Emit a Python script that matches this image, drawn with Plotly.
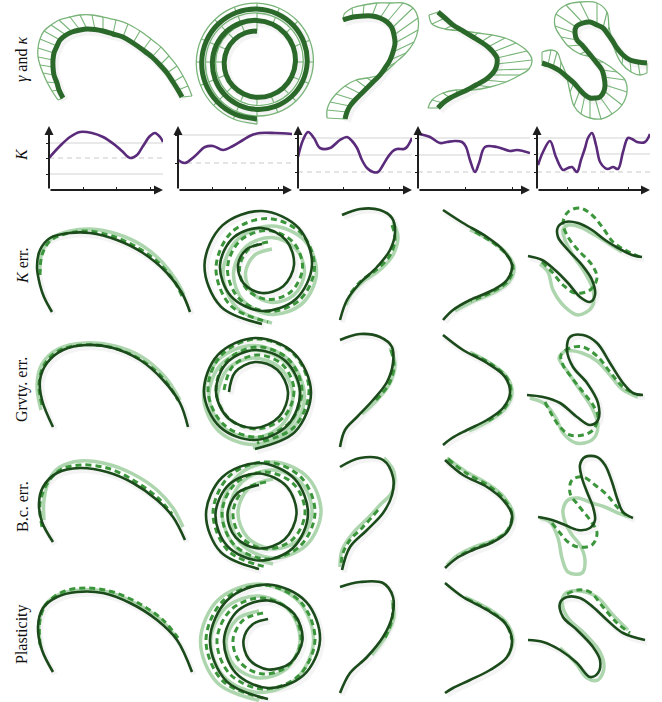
import numpy as np
import plotly.graph_objects as go

W, H = 662, 702

DARK = "#1b4a1b"
THICK = "#2b692b"
COMB = "#78b478"
MID = "#3b953b"
LIGHT = "#aed6ae"
PURPLE = "#5a2a7b"
AXIS = "#1e1e1e"
GRID = "#d4d4d4"
SHADOW = "rgba(0,0,0,0.045)"

ROW_LABELS = ["<i>γ</i> and <i>κ</i>", "<i>K</i>", "<i>K</i> err.", "Grvty. err.", "B.c. err.", "Plasticity"]
ROW_LABEL_Y = [60, 155, 266, 390, 507, 634]

# ---------------- Row 1: curves gamma with curvature comb (curve point, comb tip) -------------
R1C1_CURVE = [(63,98),(59,90),(57,83),(54,75),(53,67),(53,60),(54,53),(57,46),(60,40),(66,35),(72,32),(80,30),
              (87,29),(95,29.5),(103,31),(113,34),(123,37),(133,43),(143,50),(152,57),(160,65),(167,73),(173,82),(178,90),(182,97)]
R1C1_COMB = [(58,100),(52,91),(47,82),(43,73),(40,65),(38,57),(38,48),(40,39),(44,31),(51,25),(59,20),(70,17),
             (80,15),(92,15),(103,17),(116,20),(128,24),(140,31),(151,39),(161,47),(169,56),(177,66),(183,76),(188,86),(192,96)]

R1C3_CURVE = [(343,20),(353,17),(363,16),(372,16),(380,18),(387,22),(392,28),(394,35),(395,43),(393,52),(390,60),
              (385,68),(380,75),(373,82),(367,88),(361,94),(355,100),(350,106),(347,112),(345,119)]
R1C3_COMB = [(344,14),(352,8),(364,5),(377,3),(390,3),(403,3),(413,8),(418,18),(418,30),(414,42),(406,53),
             (395,63),(382,74),(367,78),(356,80),(345,86),(336,94),(330,102),(327,110),(327,118)]

R1C4_CURVE = [(438,12),(445,18),(453,25),(463,31),(473,37),(481,42),(488,47),(493,52),(497,58),(497,64),(495,70),
              (491,75),(485,80),(476,85),(467,90),(458,94),(450,98),(443,103),(438,108)]
R1C4_COMB = [(429,15),(432,24),(445,29),(463,31),(478,33),(492,35),(505,38),(516,43),(527,51),(532,60),(529,69),
             (520,75),(506,82),(490,87),(472,90),(456,90),(443,93),(432,100),(428,108)]

R1C5_CURVE = [(542,63),(548,65),(553,67),(560,71),(567,77),(574,83),(580,90),(585,95),(590,98),(595,98),(600,97),
              (604,91),(605,85),(604,77),(602,70),(596,62),(592,57),(587,51),(582,45),(577,40),(575,33),(576,27),
              (583,23),(590,22),(597,25),(603,28),(607,33),(612,40),(617,48),(623,55),(630,60),(638,62),(647,63)]
R1C5_COMB = [(542,52),(551,50),(557,52),(561,62),(566,74),(570,92),(574,106),(581,114),(590,118),(601,119),(612,114),
             (622,105),(627,92),(625,80),(617,72),(603,62),(592,57),(580,54),(568,46),(561,37),(555,26),(556,14),
             (566,5),(580,2),(597,3),(607,12),(609,27),(612,40),(616,53),(622,64),(631,72),(640,75),(647,73)]

# spiral (column 2), angle measured from "up", counter-clockwise on screen
SP1_CENTER = (257, 62)
SP1_ANGLE = [0, 22.5, 45, 67.5, 90, 112.5, 135, 157.5, 180, 202.5, 225, 247.5, 270, 292.5, 315, 337.5, 360,
             382.5, 405, 427.5, 450, 472.5, 495, 517.5, 540, 562.5, 585, 607.5, 630, 652.5, 675, 697.5, 720,
             742.5, 765, 787.5, 810, 832.5, 855, 877.5, 900]
SP1_R = [31.0, 31.4, 31.8, 32.3, 32.8, 33.4, 34.0, 34.6, 35.3, 36.0, 36.8, 37.6, 38.4, 39.2, 40.0, 40.8, 41.6,
         42.4, 43.2, 44.0, 44.6, 45.3, 46.0, 46.7, 47.4, 48.1, 48.8, 49.5, 50.2, 50.9, 51.6, 52.3, 53.0,
         53.6, 54.2, 54.8, 55.3, 55.8, 56.2, 56.6, 57.0]
SP1_COMB = [9.0, 8.9, 8.8, 8.7, 8.6, 8.5, 8.4, 8.3, 8.2, 8.1, 8.0, 7.9, 7.8, 7.7, 7.6, 7.5, 7.4, 7.3, 7.2, 7.1,
            7.0, 6.9, 6.8, 6.7, 6.6, 6.5, 6.4, 6.3, 6.2, 6.1, 6.0, 5.9, 5.8, 5.7, 5.6, 5.5, 5.4, 5.3, 5.2, 5.1, 5.0]

# ---------------- Row 2: K along the arc length -------------
K1_S = [0, 0.096, 0.184, 0.272, 0.377, 0.474, 0.579, 0.64, 0.711, 0.772, 0.825, 0.886, 0.93, 0.974, 1.0]
K1_V = [32, 44, 53, 58, 57, 53, 45, 39, 32, 35, 44, 54, 57, 53, 48]
K2_S = [0, 0.061, 0.149, 0.237, 0.307, 0.395, 0.482, 0.570, 0.649, 0.719, 0.851, 1.0]
K2_V = [30, 27, 34, 43, 44, 40, 44, 50, 55, 57, 57, 56]
K3_S = [0, 0.044, 0.088, 0.140, 0.193, 0.281, 0.368, 0.430, 0.474, 0.518, 0.561, 0.605, 0.658, 0.702, 0.746,
        0.789, 0.833, 0.868, 0.930, 0.956, 1.0]
K3_V = [33, 50, 58, 52, 42, 42, 50, 53, 49, 42, 30, 22, 18, 18, 25, 33, 39, 41, 41, 43, 52]
K4_S = [0.009, 0.107, 0.196, 0.259, 0.330, 0.393, 0.429, 0.464, 0.509, 0.545, 0.598, 0.705, 0.821, 0.884, 1.0]
K4_V = [56, 53, 47, 48, 49, 48, 43, 30, 18, 27, 43, 43, 39, 40, 37]
K5_S = [0.009, 0.053, 0.115, 0.168, 0.230, 0.274, 0.310, 0.354, 0.389, 0.425, 0.451, 0.487, 0.522, 0.558, 0.602,
        0.628, 0.673, 0.717, 0.761, 0.805, 0.841, 0.885, 0.956, 1.0]
K5_V = [25, 38, 49, 33, 20, 22, 23, 18, 30, 42, 52, 57, 45, 28, 22, 21, 23, 21, 38, 52, 51, 48, 48, 56]
K_S = [K1_S, K2_S, K3_S, K4_S, K5_S]
K_V = [K1_V, K2_V, K3_V, K4_V, K5_V]
K_GRID_SOLID = [[47, 16], [55], [52, 35], [52, 35], [52, 36]]
K_GRID_DASH = [[32], [27], [18], [18], [18]]
K_TICKS = [[0.3, 0.59, 0.89], [0.3, 0.59, 0.88], [0.4, 0.8], [0.42, 0.84], [0.27, 0.54, 0.81]]
K_BOX_X = [(49, 163), (178, 292), (298, 412), (418, 530), (537, 650)]
K_BOX_Y = (190, 126)
K_YMAX = 64

# ---------------- Rows 3-6: reference (dark), dashed and light solutions -------------
# K err.
E1_DARK = [(52,312),(44,297),(40,285),(37,267),(40,250),(50,238),(70,233),(90,233),(117,240),(143,253),(167,273),(182,293),(190,312)]
E1_LIGHT = [(40,272),(42,252),(52,238),(70,231),(90,229),(117,234),(143,246),(162,262),(176,280),(184,295)]
E1_DASH = [(40,275),(42,255),(50,241),(65,234),(87,231),(115,237),(140,249),(160,264),(174,281),(182,296)]
E3_DARK = [(342,215),(360,209),(380,210),(392,218),(395,233),(390,250),(377,267),(360,283),(347,300),(340,320)]
E3_LIGHT = [(393,222),(398,237),(393,255),(381,269),(364,281),(352,293),(346,305)]
E3_DASH = [(392,225),(395,240),(389,257),(376,270),(360,282),(350,294)]
E4_DARK = [(443,210),(463,223),(487,237),(503,250),(512,265),(507,280),(493,290),(470,300),(453,310),(443,320)]
E4_LIGHT = [(470,230),(490,240),(506,253),(514,267),(509,282),(495,292),(472,302),(455,311)]
E4_DASH = [(475,232),(492,242),(506,254),(513,267),(508,281),(494,291),(471,301)]
E5_DARK = [(528,256),(542,260),(555,270),(568,283),(580,297),(590,302),(595,295),(592,280),(582,265),(568,250),
           (558,237),(558,227),(565,222),(578,223),(592,230),(605,240),(618,248),(632,255),(642,257)]
E5_DASH = [(542,262),(552,272),(563,285),(575,293),(590,290),(597,278),(592,265),(578,250),(568,237),(563,223),
           (568,212),(580,208),(592,215),(603,228),(613,242),(625,250),(640,257)]
E5_LIGHT = [(540,264),(548,272),(553,290),(565,307),(578,315),(592,307),(593,290),(585,273),(573,255),(565,240),
            (563,230),(568,225),(580,227),(595,235),(608,243),(622,252)]

# Grvty. err.
G1_DARK = [(53,427),(42,400),(40,380),(47,363),(63,350),(87,345),(113,348),(140,360),(163,380),(180,403),(188,427)]
G1_LIGHT = [(41,410),(37,385),(42,364),(58,349),(85,343),(115,346),(142,357),(165,377),(180,400)]
G1_DASH = [(42,405),(39,385),(44,365),(58,351),(82,345),(110,347),(138,358),(162,377),(178,400)]
G3_DARK = [(340,340),(360,334),(380,337),(392,347),(393,363),(387,382),(373,400),(357,417),(345,430),(340,447)]
G3_LIGHT = [(390,348),(395,364),(390,383),(377,400),(362,414)]
G3_DASH = [(391,350),(394,366),(389,384),(376,400)]
G4_DARK = [(443,335),(463,350),(487,363),(505,377),(510,393),(503,408),(487,420),(467,430),(452,438),(443,445)]
G4_LIGHT = [(470,352),(490,363),(507,377),(512,393),(505,409),(489,421),(469,431)]
G4_DASH = [(472,354),(491,364),(507,378),(511,393),(504,409),(488,421)]
G5_DARK = [(527,395),(543,397),(560,403),(577,417),(590,425),(598,420),(598,403),(587,383),(573,367),(567,350),
           (570,337),(583,335),(597,343),(610,363),(623,383),(633,393),(643,395)]
G5_DASH = [(545,402),(552,415),(560,427),(570,435),(583,435),(593,430),(598,417),(593,405),(583,392),(572,378),
           (563,365),(561,355),(570,348),(583,347),(597,356),(610,372),(622,386),(635,394)]
G5_LIGHT = [(530,398),(545,404),(556,418),(563,433),(576,443),(592,440),(598,426),(592,408),(580,390),(568,372),
            (559,358),(566,351),(582,353),(597,361),(610,375),(622,389),(638,397)]

# B.c. err.
B1_DARK = [(53,542),(42,522),(39,503),(43,487),(57,473),(80,468),(107,472),(133,483),(157,500),(173,517),(185,540)]
B1_LIGHT = [(44,520),(44,500),(50,478),(60,467),(80,461),(107,464),(133,474),(157,490),(173,508),(183,527)]
B1_DASH = [(42,527),(40,503),(47,484),(60,470),(80,465),(107,468),(133,480),(157,497),(172,514)]
B3_DARK = [(340,467),(360,458),(383,460),(393,477),(392,495),(383,513),(367,530),(350,547),(342,570)]
B3_LIGHT = [(384,458),(394,472),(392,492),(380,505),(368,518),(353,533),(342,550),(340,567)]
B3_DASH = [(378,510),(363,527),(350,540),(343,553),(341,565)]
B4_DARK = [(445,460),(463,475),(487,487),(503,500),(512,515),(507,532),(493,542),(473,550),(457,558),(445,568)]
B4_LIGHT = [(447,458),(465,471),(488,484),(504,497),(513,514),(508,530),(494,540),(474,547),(458,555),(447,565)]
B4_DASH = [(448,459),(466,473),(489,486),(504,499),(512,515),(507,531),(493,541),(473,549),(457,557)]
B5_DARK = [(538,517),(552,520),(565,525),(578,530),(590,528),(595,520),(593,507),(587,492),(582,478),(580,465),
           (585,457),(597,457),(605,465),(612,482),(617,498),(623,512),(633,518)]
B5_DASH = [(552,523),(560,533),(568,542),(578,547),(592,545),(597,533),(590,520),(578,505),(570,493),(572,480),
           (583,477),(595,485),(607,495),(618,508),(626,515)]
B5_LIGHT = [(540,518),(550,522),(558,538),(562,558),(568,572),(582,573),(585,560),(580,545),(572,535),(565,522),
            (563,510),(568,500),(578,498),(592,503),(605,507),(618,513),(630,517)]

# Plasticity
P1_DARK = [(53,672),(42,650),(38,627),(43,608),(57,597),(77,592),(103,593),(130,603),(157,620),(177,640),(192,672)]
P1_LIGHT = [(41,648),(39,624),(45,605),(60,594),(82,590),(108,592),(135,603),(160,619),(177,638)]
P1_DASH = [(40,645),(40,620),(47,603),(65,591),(87,588),(113,592),(140,604),(163,620),(178,638)]
P3_DARK = [(340,587),(360,582),(383,583),(393,597),(392,617),(383,637),(367,657),(350,673),(340,693)]
P3_LIGHT = [(392,600),(394,617),(386,636),(372,655)]
P3_DASH = [(393,603),(392,620),(385,638)]
P4_DARK = [(445,583),(463,597),(487,610),(505,623),(512,640),(507,657),(490,670),(470,680),(453,688),(445,693)]
P4_LIGHT = [(465,597),(489,609),(506,622),(513,640),(508,656)]
P4_DASH = [(467,599),(490,611),(506,624),(512,640)]
P5_DARK = [(528,640),(543,642),(560,650),(577,663),(590,677),(598,673),(600,660),(593,647),(577,630),(563,617),
           (560,603),(567,597),(580,598),(593,607),(607,620),(623,633),(645,640)]
P5_LIGHT = [(560,648),(575,662),(587,678),(598,680),(604,668),(600,652),(585,634),(568,618),(562,602),(566,593),
            (580,591),(597,597),(613,615),(628,630)]
P5_DASH = [(567,594),(578,590),(590,592),(603,607),(617,623),(630,633)]

# spirals of rows 3-6: (center, angles, radii)
A45 = [0, 45, 90, 135, 180, 225, 270, 315, 360, 405, 450, 495, 540, 585, 630, 675, 720, 765, 810, 855, 900]
AG = [90, 45, 0, -45, -90, -135, -180, -225, -270, -315, -360, -405, -450, -495, -540, -585, -630, -675,
      -720, -765, -810, -855, -900]
SPK_DARK = ((262, 265), A45, [21, 22, 24, 26, 28, 30, 32, 34.5, 37, 39.5, 42, 44, 46, 48, 50, 52, 54, 56, 57.5, 58.5, 59])
SPK_DASH = ((268, 268), A45, [26, 27, 28.5, 30, 31.5, 33, 34.5, 36, 37.5, 39, 40.5, 42, 43.5, 45, 46.5, 48, 49.5, 51, 52, 53, 54])
SPK_LIGHT = ((272, 273), A45, [24, 25, 26.5, 28, 29.5, 31, 32.5, 34, 35.5, 37, 38.5, 40, 41.5, 43, 44.5, 46, 47, 48, 49, 49.5, 50])
SPG_DARK = ((255, 392), AG, [26, 28, 30, 31.5, 33, 34.5, 36, 37.5, 39, 40.5, 42, 43.5, 45, 46.5, 48, 49.5, 51, 52.5, 54, 55, 56, 56.5, 57])
SPG_DASH = ((257, 390), AG, [33, 34, 35, 36, 37, 38, 39, 40, 41, 42, 43, 44, 45, 46, 47, 48, 49, 50, 51, 51.5, 52, 52.5, 53])
SPG_LIGHT = ((253, 396), AG, [36, 37, 38, 39, 40, 41, 42, 43, 44, 45, 46, 47, 47.5, 48, 48.5, 49, 49.5, 50, 50.5, 51, 51.5, 52, 52])
SPB_DARK = ((259, 514), A45, [29, 30, 31.5, 33, 34.5, 36, 37.5, 39, 40.5, 42, 43.5, 45, 46.5, 48, 49, 50, 51, 52, 53, 54, 55])
SPB_DASH = ((266, 513), A45, [31, 32, 33, 34.5, 36, 37.5, 39, 40, 41, 42.5, 44, 45, 46, 47.5, 49, 50, 51, 52, 53, 53.5, 54])
SPB_LIGHT = ((273, 512), A45, [33, 34, 35, 36, 37, 38, 39, 40.5, 42, 43, 44, 45, 46, 47, 48, 49, 50, 50.5, 51, 51.5, 52])
SPP_DARK = ((268, 640), A45, [21, 22, 24.5, 27, 29.5, 32, 34.5, 37, 39.5, 42, 44, 46, 48, 50, 52, 54, 55.5, 57, 58, 58.5, 59])
SPP_DASH = ((263, 640), A45, [27, 28, 30, 32, 34, 36, 38, 40, 42, 44, 46, 47.5, 49, 50.5, 52, 53.5, 55, 56, 57, 57.5, 58])
SPP_LIGHT = ((259, 641), A45, [30, 31, 33, 35, 37, 39, 41, 43, 45, 47, 48.5, 50, 51.5, 53, 54.5, 56, 57, 58, 58.5, 59, 59.5])

ROWS = [
    [(E1_DARK, E1_DASH, E1_LIGHT), (SPK_DARK, SPK_DASH, SPK_LIGHT), (E3_DARK, E3_DASH, E3_LIGHT),
     (E4_DARK, E4_DASH, E4_LIGHT), (E5_DARK, E5_DASH, E5_LIGHT)],
    [(G1_DARK, G1_DASH, G1_LIGHT), (SPG_DARK, SPG_DASH, SPG_LIGHT), (G3_DARK, G3_DASH, G3_LIGHT),
     (G4_DARK, G4_DASH, G4_LIGHT), (G5_DARK, G5_DASH, G5_LIGHT)],
    [(B1_DARK, B1_DASH, B1_LIGHT), (SPB_DARK, SPB_DASH, SPB_LIGHT), (B3_DARK, B3_DASH, B3_LIGHT),
     (B4_DARK, B4_DASH, B4_LIGHT), (B5_DARK, B5_DASH, B5_LIGHT)],
    [(P1_DARK, P1_DASH, P1_LIGHT), (SPP_DARK, SPP_DASH, SPP_LIGHT), (P3_DARK, P3_DASH, P3_LIGHT),
     (P4_DARK, P4_DASH, P4_LIGHT), (P5_DARK, P5_DASH, P5_LIGHT)],
]

# ======================================================================
fig = go.Figure()


def to_xy(obj):
    """points list -> xs, ys ; spiral tuple -> xs, ys"""
    if isinstance(obj, tuple):
        (cx, cy), ang, rad = obj
        a = np.radians(np.array(ang, dtype=float))
        r = np.array(rad, dtype=float)
        return list(cx - r * np.sin(a)), list(cy - r * np.cos(a))
    return [p[0] for p in obj], [p[1] for p in obj]


def line(xs, ys, color, width, dash=None, shape="spline", xa="x", ya="y"):
    fig.add_trace(go.Scatter(x=xs, y=ys, mode="lines", xaxis=xa, yaxis=ya, hoverinfo="skip",
                             line=dict(color=color, width=width, dash=dash, shape=shape, smoothing=1.0)))


def shadow(xs, ys, width):
    line([v + 2 for v in xs], [v + 2.5 for v in ys], SHADOW, width + 3)


def comb(cx, cy, ex, ey):
    tx, ty = [], []
    for a, b, c, d in zip(cx, cy, ex, ey):
        tx += [a, c, None]
        ty += [b, d, None]
    line(tx, ty, COMB, 1.1, shape="linear")
    line(ex, ey, COMB, 1.3)


# Row 1
for cpts, epts in [(R1C1_CURVE, R1C1_COMB), (R1C3_CURVE, R1C3_COMB),
                   (R1C4_CURVE, R1C4_COMB), (R1C5_CURVE, R1C5_COMB)]:
    cx, cy = to_xy(cpts)
    ex, ey = to_xy(epts)
    shadow(cx, cy, 5)
    comb(cx, cy, ex, ey)
    line(cx, cy, THICK, 5)

sx, sy = to_xy((SP1_CENTER, SP1_ANGLE, SP1_R))
ex, ey = to_xy((SP1_CENTER, SP1_ANGLE, [r + c for r, c in zip(SP1_R, SP1_COMB)]))
shadow(sx, sy, 5)
comb(sx, sy, ex, ey)
line(sx, sy, THICK, 5)

# Rows 3-6
for row in ROWS:
    for dark, dash, light in row:
        dx, dy = to_xy(dark)
        shadow(dx, dy, 2.5)
        lx, ly = to_xy(light)
        line(lx, ly, LIGHT, 3.5)
        mx, my = to_xy(dash)
        line(mx, my, MID, 3, dash="6px,4px")
        line(dx, dy, DARK, 2.6)

# Row 2: K charts
annotations = []
shapes = []
for i in range(5):
    n = i + 2
    xa, ya = f"x{n}", f"y{n}"
    x0, x1 = K_BOX_X[i]
    for g in K_GRID_SOLID[i]:
        shapes.append(dict(type="line", xref=xa, yref=ya, x0=0, x1=1.0, y0=g, y1=g,
                           line=dict(color=GRID, width=1.2), layer="below"))
    for g in K_GRID_DASH[i]:
        shapes.append(dict(type="line", xref=xa, yref=ya, x0=0, x1=1.0, y0=g, y1=g,
                           line=dict(color="#c9c9c9", width=1.2, dash="5px,4px"), layer="below"))
    line(K_S[i], K_V[i], PURPLE, 2.6, xa=xa, ya=ya)
    annotations.append(dict(x=1.0, y=0, ax=0, ay=0, xref=xa, yref=ya, axref=xa, ayref=ya, text="",
                            showarrow=True, arrowhead=2, arrowsize=0.9, arrowwidth=2, arrowcolor=AXIS))
    annotations.append(dict(x=0, y=K_YMAX, ax=0, ay=0, xref=xa, yref=ya, axref=xa, ayref=ya, text="",
                            showarrow=True, arrowhead=2, arrowsize=0.9, arrowwidth=2, arrowcolor=AXIS))
    fig.update_layout(**{
        f"xaxis{n}": dict(domain=[x0 / W, x1 / W], range=[0, 1.0], anchor=ya, showgrid=False, zeroline=False,
                          showline=False, showticklabels=False, tickvals=K_TICKS[i], ticks="inside",
                          ticklen=3, tickwidth=1.3, tickcolor=AXIS, fixedrange=True),
        f"yaxis{n}": dict(domain=[1 - K_BOX_Y[0] / H, 1 - K_BOX_Y[1] / H], range=[0, K_YMAX], anchor=xa,
                          showgrid=False, zeroline=False, showline=False, showticklabels=False,
                          tickvals=K_GRID_SOLID[i] + K_GRID_DASH[i], ticks="outside", ticklen=2,
                          tickwidth=1.2, tickcolor=AXIS, fixedrange=True),
    })

for lab, yy in zip(ROW_LABELS, ROW_LABEL_Y):
    annotations.append(dict(x=22 / W, y=1 - yy / H, xref="paper", yref="paper", text=lab, showarrow=False,
                            textangle=-90, xanchor="center", yanchor="middle",
                            font=dict(family="Liberation Serif, DejaVu Serif, serif", size=16, color="#111")))

fig.update_layout(
    width=W, height=H, margin=dict(l=0, r=0, t=0, b=0),
    paper_bgcolor="white", plot_bgcolor="rgba(0,0,0,0)", showlegend=False,
    xaxis=dict(domain=[0, 1], range=[0, W], visible=False, fixedrange=True),
    yaxis=dict(domain=[0, 1], range=[H, 0], visible=False, fixedrange=True),
    annotations=annotations, shapes=shapes,
)

fig.write_html("out.html")
